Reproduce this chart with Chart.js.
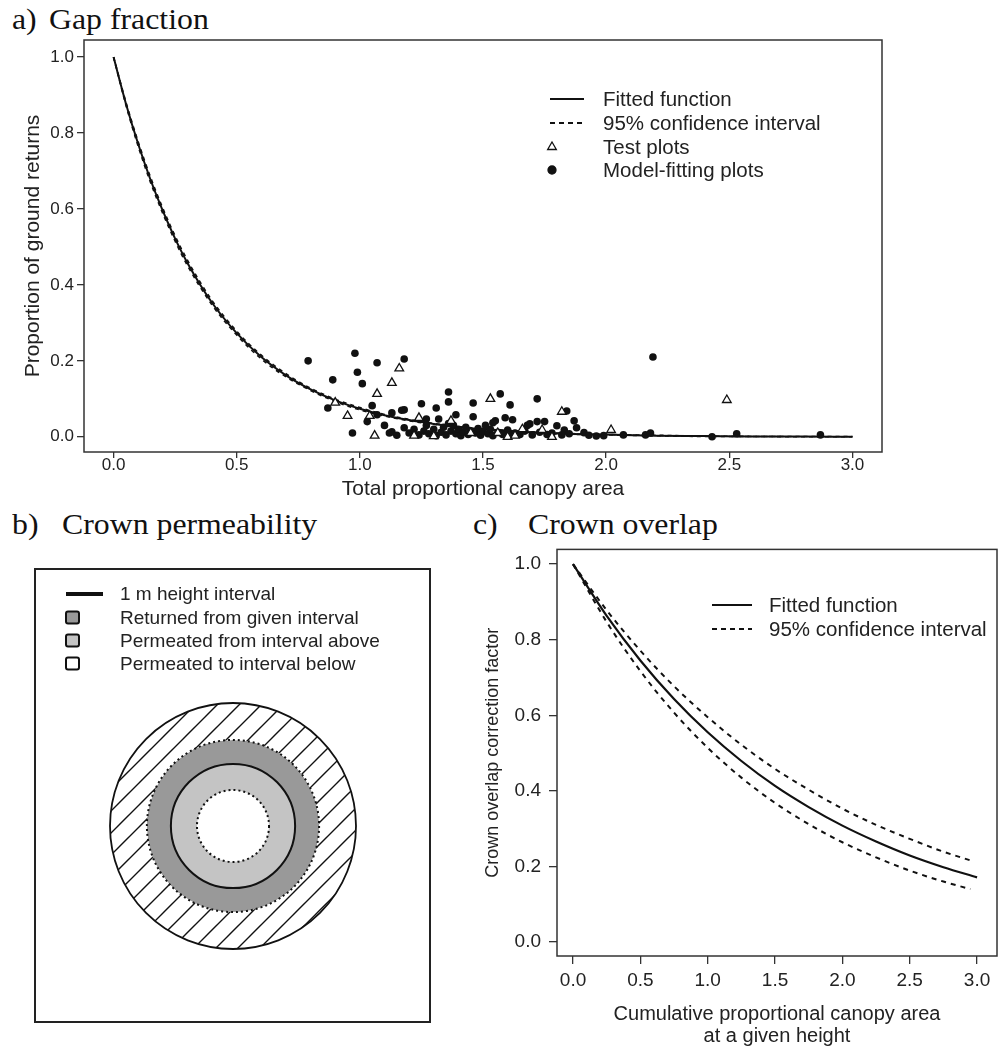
<!DOCTYPE html>
<html>
<head>
<meta charset="utf-8">
<script src="https://cdn.jsdelivr.net/npm/chart.js@4.4.0/dist/chart.umd.min.js"></script>
<style>
  body { margin: 0; background: #fff; width: 999px; height: 1048px; position: relative; overflow: hidden; }
  .panel { position: absolute; }
  .ttl { position: absolute; font-family: "Liberation Serif", "Times New Roman", serif; font-size: 30px; line-height: 30px; color: #111; white-space: nowrap; transform: scaleX(1.06); transform-origin: left center; }
</style>
</head>
<body>
<div class="ttl" style="left:12px;top:4px">a)</div>
<div class="ttl" style="left:49px;top:4px">Gap fraction</div>
<div class="ttl" style="left:12px;top:509px">b)</div>
<div class="ttl" style="left:62px;top:509px">Crown permeability</div>
<div class="ttl" style="left:473px;top:509px">c)</div>
<div class="ttl" style="left:528px;top:509px">Crown overlap</div>
<canvas id="chart-gap" class="panel" width="999" height="505" style="left:0;top:0"></canvas>
<canvas id="chart-perm" class="panel" width="410" height="470" style="left:30px;top:562px"></canvas>
<canvas id="chart-overlap" class="panel" width="529" height="518" style="left:470px;top:530px"></canvas>
<script>
// a) gap fraction
const gapCurveX = [0, 0.05, 0.1, 0.15, 0.2, 0.25, 0.3, 0.4, 0.5, 0.6, 0.7, 0.8, 0.9, 1.0, 1.1, 1.2, 1.3, 1.4, 1.5, 1.6, 1.8, 2.0, 2.2, 2.4, 2.6, 2.8, 3.0];
const gapFitted = [1, 0.878, 0.771, 0.677, 0.595, 0.522, 0.458, 0.353, 0.273, 0.210, 0.162, 0.125, 0.096, 0.074, 0.057, 0.044, 0.034, 0.026, 0.020, 0.016, 0.009, 0.006, 0.003, 0.002, 0.001, 0.001, 0.000];
const gapUpper = [1, 0.882, 0.777, 0.684, 0.602, 0.529, 0.465, 0.359, 0.278, 0.215, 0.166, 0.128, 0.099, 0.077, 0.059, 0.046, 0.035, 0.027, 0.021, 0.017, 0.010, 0.006, 0.004, 0.002, 0.001, 0.001, 0.001];
const gapLower = [1, 0.874, 0.765, 0.670, 0.588, 0.515, 0.451, 0.347, 0.268, 0.205, 0.158, 0.122, 0.093, 0.071, 0.055, 0.042, 0.033, 0.025, 0.019, 0.015, 0.008, 0.005, 0.003, 0.001, 0.001, 0.000, 0.000];

const fittingPlotX = [0.79, 0.98, 0.99, 1.07, 1.18, 0.89, 0.87, 1.01, 0.97, 1.36, 1.36, 1.25, 1.31, 1.46, 1.18, 1.05, 1.03, 1.07, 1.13, 1.46,
  1.57, 1.61, 1.72, 1.59, 1.55, 1.62, 1.69, 1.72, 1.75, 1.84, 1.87, 1.80, 1.83, 1.88, 1.91, 1.99, 2.07, 2.16, 2.18, 2.19,
  2.43, 2.53, 2.87, 1.17, 1.27, 1.32, 1.39, 1.54, 1.68,
  1.12, 1.13, 1.15, 1.18, 1.20, 1.22, 1.24, 1.26, 1.28, 1.30, 1.31, 1.33, 1.34, 1.35, 1.37, 1.38, 1.39, 1.40, 1.41, 1.42,
  1.43, 1.44, 1.45, 1.47, 1.48, 1.49, 1.50, 1.52, 1.53, 1.54, 1.56, 1.58, 1.60, 1.61, 1.63, 1.65, 1.67, 1.70, 1.73, 1.76,
  1.78, 1.82, 1.85, 1.10, 1.27, 1.36, 1.51, 1.93, 1.96];
const fittingPlotY = [0.20, 0.22, 0.17, 0.195, 0.205, 0.15, 0.076, 0.14, 0.01, 0.118, 0.092, 0.087, 0.076, 0.089, 0.071, 0.082, 0.04, 0.058, 0.063, 0.053,
  0.113, 0.084, 0.10, 0.05, 0.042, 0.045, 0.034, 0.04, 0.04, 0.068, 0.042, 0.029, 0.018, 0.024, 0.011, 0.003, 0.005, 0.005, 0.01, 0.21,
  0.0, 0.008, 0.005, 0.07, 0.047, 0.047, 0.058, 0.037, 0.03,
  0.01, 0.013, 0.004, 0.024, 0.01, 0.02, 0.005, 0.015, 0.008, 0.02, 0.003, 0.012, 0.025, 0.005, 0.015, 0.03, 0.008, 0.02, 0.003, 0.012,
  0.025, 0.006, 0.015, 0.01, 0.022, 0.004, 0.014, 0.008, 0.02, 0.003, 0.012, 0.006, 0.018, 0.004, 0.01, 0.006, 0.015, 0.005, 0.012, 0.006,
  0.01, 0.005, 0.008, 0.03, 0.03, 0.035, 0.03, 0.004, 0.002];

const testPlotX = [0.90, 0.95, 1.04, 1.06, 1.07, 1.13, 1.16, 1.22, 1.24, 1.30, 1.37, 1.45, 1.53, 1.56, 1.60, 1.63, 1.66, 1.74, 1.78, 1.82, 2.02, 2.49];
const testPlotY = [0.09, 0.055, 0.055, 0.003, 0.113, 0.142, 0.18, 0.003, 0.05, 0.002, 0.042, 0.01, 0.10, 0.01, 0.0, 0.003, 0.02, 0.018, 0.0, 0.066, 0.018, 0.097];

const gapXTicks = [0, 0.5, 1.0, 1.5, 2.0, 2.5, 3.0];
const gapYTicks = [0, 0.2, 0.4, 0.6, 0.8, 1.0];

// b) crown permeability (radii relative to outer ring)
const ringRadii = [1.0, 0.70, 0.505, 0.293];
const ringLabels = ["Permeated to interval below", "Returned from given interval", "Permeated from interval above"];
const permLegend = ["1 m height interval", "Returned from given interval", "Permeated from interval above", "Permeated to interval below"];

// c) crown overlap
const overlapX = [0, 0.25, 0.5, 0.75, 1.0, 1.25, 1.5, 1.75, 2.0, 2.25, 2.5, 2.75, 3.0];
const overlapFitted = [1, 0.863, 0.745, 0.643, 0.555, 0.479, 0.413, 0.357, 0.308, 0.266, 0.229, 0.198, 0.171];
const overlapCiX = [0, 0.25, 0.5, 0.75, 1.0, 1.25, 1.5, 1.75, 2.0, 2.25, 2.5, 2.75, 2.95];
const overlapUpper = [1, 0.878, 0.771, 0.677, 0.595, 0.522, 0.458, 0.403, 0.353, 0.310, 0.273, 0.239, 0.216];
const overlapLower = [1, 0.847, 0.717, 0.607, 0.514, 0.435, 0.368, 0.312, 0.264, 0.224, 0.189, 0.160, 0.140];
const overlapXTicks = [0, 0.5, 1.0, 1.5, 2.0, 2.5, 3.0];
const overlapYTicks = [0, 0.2, 0.4, 0.6, 0.8, 1.0];

Chart.defaults.font.family = '"Liberation Sans", Arial, sans-serif';
Chart.defaults.color = "#222";

const INK = "#111";
const pts = (xs, ys) => xs.map((x, i) => ({ x, y: ys[i] }));
const fixedTicks = (values) => (scale) => { scale.ticks = values.map((value) => ({ value })); };

const frame = {
  id: "frame",
  afterDraw(chart) {
    const { ctx, chartArea: a } = chart;
    ctx.save();
    ctx.strokeStyle = "#333";
    ctx.lineWidth = 1.5;
    ctx.strokeRect(a.left, a.top, a.right - a.left, a.bottom - a.top);
    ctx.restore();
  },
};

// simple legend drawer: items with a symbol and a text
function legendPlugin(items, symX0, symX1, textX, fontSize) {
  return {
    id: "manualLegend",
    afterDraw(chart) {
      const ctx = chart.ctx;
      ctx.save();
      items.forEach((it) => {
        ctx.strokeStyle = INK;
        ctx.fillStyle = INK;
        ctx.setLineDash([]);
        if (it.kind === "line" || it.kind === "dash") {
          ctx.lineWidth = it.width || 2;
          if (it.kind === "dash") ctx.setLineDash(it.dash || [5, 4]);
          ctx.beginPath();
          ctx.moveTo(symX0, it.y);
          ctx.lineTo(symX1, it.y);
          ctx.stroke();
        } else if (it.kind === "triangle" || it.kind === "circle") {
          ctx.lineWidth = 1.3;
          ctx.fillStyle = it.kind === "triangle" ? "#fff" : INK;
          Chart.helpers.drawPoint(ctx, { pointStyle: it.kind, radius: it.r, rotation: 0, borderWidth: 1.3 }, symX0 + 2, it.y);
        } else if (it.kind === "box") {
          ctx.lineWidth = 2;
          ctx.fillStyle = it.color;
          ctx.beginPath();
          ctx.roundRect(symX0, it.y - 6, 13, 12, 2);
          ctx.fill();
          ctx.stroke();
        }
        ctx.setLineDash([]);
        ctx.fillStyle = "#222";
        ctx.font = `${fontSize}px "Liberation Sans", Arial, sans-serif`;
        ctx.textBaseline = "middle";
        ctx.textAlign = "left";
        ctx.fillText(it.text, textX, it.y + 1);
      });
      ctx.restore();
    },
  };
}

function axisTicks(size, length, padding) {
  return {
    grid: { drawOnChartArea: false, drawTicks: true, tickLength: length, color: "#333", lineWidth: 1.3 },
    border: { display: false },
    ticks: { font: { size }, color: "#222", padding, maxRotation: 0, autoSkip: false, callback: (v) => Number(v).toFixed(1) },
  };
}

const curveStyle = { showLine: true, pointRadius: 0, borderColor: INK, cubicInterpolationMode: "monotone" };

// a) Gap fraction
new Chart(document.getElementById("chart-gap"), {
  type: "scatter",
  data: {
    datasets: [
      {
        label: "Test plots",
        data: pts(testPlotX, testPlotY),
        pointStyle: "triangle",
        pointRadius: 5,
        pointBorderWidth: 1.3,
        pointBorderColor: INK,
        pointBackgroundColor: "#fff",
      },
      {
        label: "Model-fitting plots",
        data: pts(fittingPlotX, fittingPlotY),
        pointStyle: "circle",
        pointRadius: 3.8,
        pointBorderWidth: 0,
        pointBackgroundColor: INK,
      },
      { label: "Upper", data: pts(gapCurveX, gapUpper), borderWidth: 1.6, borderDash: [4, 4], ...curveStyle },
      { label: "Lower", data: pts(gapCurveX, gapLower), borderWidth: 1.6, borderDash: [4, 4], ...curveStyle },
      { label: "Fitted function", data: pts(gapCurveX, gapFitted), borderWidth: 2, ...curveStyle },
    ],
  },
  options: {
    responsive: false,
    animation: false,
    events: [],
    layout: { padding: { left: 0, right: 117, top: 40, bottom: 0 } },
    plugins: { legend: { display: false }, tooltip: { enabled: false } },
    scales: {
      x: {
        type: "linear",
        min: -0.12,
        max: 3.12,
        bounds: "data",
        afterBuildTicks: fixedTicks(gapXTicks),
        afterFit: (s) => { s.height = 53; },
        ...axisTicks(17, 6, -3),
        title: { display: true, text: "Total proportional canopy area", font: { size: 21 }, color: "#222", padding: { top: 0, bottom: 3 } },
      },
      y: {
        type: "linear",
        min: -0.04,
        max: 1.045,
        bounds: "data",
        afterBuildTicks: fixedTicks(gapYTicks),
        afterFit: (s) => { s.width = 84; },
        ...axisTicks(17, 7, 3),
        title: { display: true, text: "Proportion of ground returns", font: { size: 21 }, color: "#222", padding: { top: 21, bottom: 0 } },
      },
    },
  },
  plugins: [
    frame,
    legendPlugin(
      [
        { kind: "line", y: 99, text: "Fitted function" },
        { kind: "dash", y: 123, dash: [5, 4], width: 1.8, text: "95% confidence interval" },
        { kind: "triangle", y: 147, r: 5, text: "Test plots" },
        { kind: "circle", y: 170, r: 4, text: "Model-fitting plots" },
      ],
      550, 584, 603, 20.5
    ),
  ],
});

// b) Crown permeability
function hatchPattern() {
  const n = 22;
  const tile = document.createElement("canvas");
  tile.width = n;
  tile.height = n;
  const t = tile.getContext("2d");
  t.fillStyle = "#fff";
  t.fillRect(0, 0, n, n);
  t.strokeStyle = INK;
  t.lineWidth = 1.4;
  t.beginPath();
  t.moveTo(-5, n + 5); t.lineTo(n + 5, -5);
  t.moveTo(-n, n); t.lineTo(n, -n);
  t.moveTo(0, 2 * n); t.lineTo(2 * n, 0);
  t.stroke();
  return t.createPattern(tile, "repeat");
}

const ringOutlines = {
  id: "ringOutlines",
  afterDatasetsDraw(chart) {
    const ctx = chart.ctx;
    const arcs = chart.data.datasets.map((_, i) => chart.getDatasetMeta(i).data[0]);
    const circle = (arc, r, dash, width) => {
      ctx.save();
      ctx.strokeStyle = INK;
      ctx.lineWidth = width;
      ctx.setLineDash(dash);
      ctx.beginPath();
      ctx.arc(arc.x, arc.y, r, 0, Math.PI * 2);
      ctx.stroke();
      ctx.restore();
    };
    circle(arcs[0], arcs[0].outerRadius, [], 1.8);
    circle(arcs[1], arcs[1].outerRadius, [2, 3], 2);
    circle(arcs[2], arcs[2].outerRadius, [], 2);
    circle(arcs[2], arcs[2].innerRadius, [2, 3], 2);
  },
};

const permColors = ["#999999", "#c4c4c4", "#ffffff"];
const permBox = {
  id: "permBox",
  afterDraw(chart) {
    const ctx = chart.ctx;
    ctx.save();
    ctx.strokeStyle = "#222";
    ctx.lineWidth = 2;
    ctx.strokeRect(5, 7, 395, 453);
    ctx.restore();
  },
};

new Chart(document.getElementById("chart-perm"), {
  type: "doughnut",
  data: {
    labels: ["ring"],
    datasets: ringLabels.map((label, i) => ({
      label,
      data: [1],
      weight: ringRadii[i] - ringRadii[i + 1],
      backgroundColor: [i === 0 ? hatchPattern() : permColors[i - 1]],
      borderWidth: 0,
      hoverBorderWidth: 0,
      hoverOffset: 0,
    })),
  },
  options: {
    responsive: false,
    animation: false,
    events: [],
    cutout: ringRadii[3] * 100 + "%",
    layout: { padding: { left: 80, right: 84, top: 141, bottom: 83 } },
    plugins: { legend: { display: false }, tooltip: { enabled: false } },
  },
  plugins: [
    ringOutlines,
    permBox,
    legendPlugin(
      [
        { kind: "line", y: 32, width: 4, text: permLegend[0] },
        { kind: "box", y: 55.5, color: permColors[0], text: permLegend[1] },
        { kind: "box", y: 78.5, color: permColors[1], text: permLegend[2] },
        { kind: "box", y: 101.5, color: permColors[2], text: permLegend[3] },
      ],
      36, 73, 90, 19
    ),
  ],
});

// c) Crown overlap
new Chart(document.getElementById("chart-overlap"), {
  type: "scatter",
  data: {
    datasets: [
      { label: "Fitted function", data: pts(overlapX, overlapFitted), borderWidth: 2.2, ...curveStyle },
      { label: "Upper", data: pts(overlapCiX, overlapUpper), borderWidth: 2, borderDash: [5, 5], ...curveStyle },
      { label: "Lower", data: pts(overlapCiX, overlapLower), borderWidth: 2, borderDash: [5, 5], ...curveStyle },
    ],
  },
  options: {
    responsive: false,
    animation: false,
    events: [],
    layout: { padding: { left: 0, right: 2, top: 16, bottom: 0 } },
    plugins: { legend: { display: false }, tooltip: { enabled: false } },
    scales: {
      x: {
        type: "linear",
        min: -0.119,
        max: 3.148,
        bounds: "data",
        afterBuildTicks: fixedTicks(overlapXTicks),
        afterFit: (s) => { s.height = 92; },
        ...axisTicks(19, 8, 5),
        title: {
          display: true,
          text: ["Cumulative proportional canopy area", "at a given height"],
          font: { size: 20, lineHeight: 1.1 },
          color: "#222",
          padding: { top: 0, bottom: 1 },
        },
      },
      y: {
        type: "linear",
        min: -0.037,
        max: 1.039,
        bounds: "data",
        afterBuildTicks: fixedTicks(overlapYTicks),
        afterFit: (s) => { s.width = 87; },
        ...axisTicks(19, 8, 8),
        title: { display: true, text: "Crown overlap correction factor", font: { size: 18 }, color: "#222", padding: { top: 12, bottom: 0 } },
      },
    },
  },
  plugins: [
    frame,
    legendPlugin(
      [
        { kind: "line", y: 75, width: 2.2, text: "Fitted function" },
        { kind: "dash", y: 99, dash: [5, 4], width: 2, text: "95% confidence interval" },
      ],
      242, 282, 299, 20.5
    ),
  ],
});
</script>
</body>
</html>
